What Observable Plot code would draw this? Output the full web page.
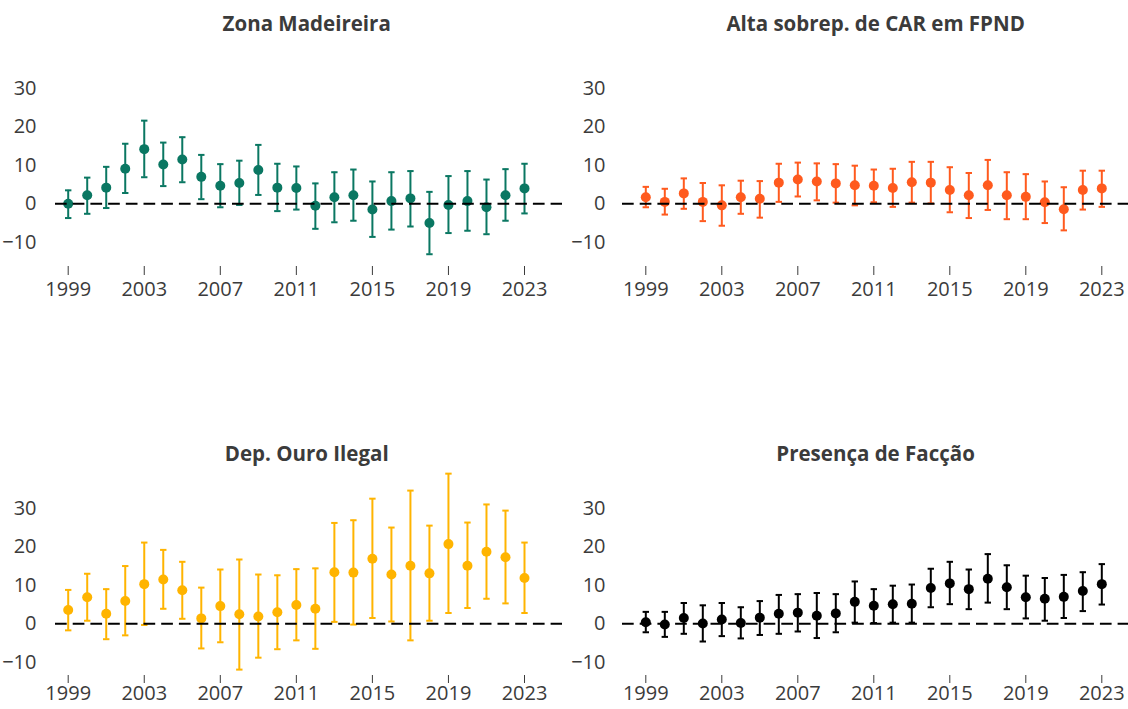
<!DOCTYPE html>
<html>
<head>
<meta charset="utf-8">
<script src="https://cdn.jsdelivr.net/npm/d3@7"></script>
<script src="https://cdn.jsdelivr.net/npm/@observablehq/plot@0.6"></script>
<style>
  html, body { margin: 0; padding: 0; background: #fff; }
  #wrap { position: relative; width: 1128px; height: 709px; overflow: hidden; font-family: "Open Sans", sans-serif; }
  .title { position: absolute; width: 600px; text-align: center; font-weight: 700; font-size: 20.5px; line-height: 24px; color: #3b3b3b; }
  .panel { position: absolute; }
</style>
</head>
<body>
<div id="wrap"></div>
<script>
const years = [1999,2000,2001,2002,2003,2004,2005,2006,2007,2008,2009,2010,2011,2012,2013,2014,2015,2016,2017,2018,2019,2020,2021,2022,2023];
const xTicks = [1999,2003,2007,2011,2015,2019,2023];
const yTicks = [-10,0,10,20,30];

const titles = ["Zona Madeireira", "Alta sobrep. de CAR em FPND", "Dep. Ouro Ilegal", "Presença de Facção"];
const colors = ["#0a7762", "#ff5a1e", "#ffb400", "#000000"];

// Zona Madeireira
const estA = [0.0,2.2,4.2,9.1,14.2,10.2,11.5,7.0,4.7,5.4,8.8,4.2,4.1,-0.5,1.7,2.2,-1.5,0.7,1.4,-5.0,-0.3,0.7,-0.9,2.2,4.0];
const hiA  = [3.5,6.8,9.6,15.6,21.6,15.9,17.3,12.7,10.3,11.2,15.3,10.4,9.7,5.3,8.2,8.9,5.8,8.2,8.5,3.1,7.2,8.5,6.3,9.0,10.4];
const loA  = [-3.7,-2.6,-1.1,2.8,6.9,4.6,5.6,1.2,-0.9,-0.3,2.3,-1.9,-1.5,-6.5,-4.8,-4.4,-8.6,-6.7,-5.9,-13.1,-7.6,-7.0,-7.9,-4.4,-2.5];

// Alta sobrep. de CAR em FPND
const estB = [1.7,0.5,2.7,0.5,-0.4,1.7,1.3,5.5,6.3,5.8,5.3,4.8,4.7,4.1,5.6,5.5,3.6,2.2,4.8,2.2,1.8,0.4,-1.4,3.6,4.0];
const hiB  = [4.4,3.9,6.6,5.4,4.8,6.0,5.9,10.4,10.7,10.5,10.3,9.9,8.9,9.1,10.9,10.9,9.5,8.0,11.4,8.2,7.7,5.8,4.3,8.6,8.6];
const loB  = [-0.9,-2.8,-1.3,-4.5,-5.7,-2.6,-3.6,0.5,1.9,0.9,0.3,-0.4,0.4,-0.8,0.3,0.1,-2.2,-3.7,-1.6,-4.0,-4.0,-5.0,-6.9,-1.5,-0.8];

// Dep. Ouro Ilegal
const estC = [3.6,6.9,2.6,5.9,10.3,11.5,8.7,1.4,4.6,2.5,1.9,3.0,4.9,3.9,13.4,13.3,16.9,12.8,15.1,13.1,20.7,15.1,18.7,17.3,11.9];
const hiC  = [8.8,13.0,9.0,15.0,21.1,19.2,16.1,9.4,14.1,16.7,12.8,12.6,14.2,14.4,26.2,26.9,32.5,25.0,34.6,25.5,39.0,26.3,31.0,29.4,21.1];
const loC  = [-1.7,0.8,-4.0,-3.0,-0.3,3.9,1.3,-6.4,-4.8,-11.9,-8.8,-6.6,-4.3,-6.5,0.5,-0.2,1.5,0.6,-4.3,0.8,2.8,4.1,6.5,5.3,2.8];

// Presença de Facção
const estD = [0.4,-0.2,1.5,0.1,1.1,0.2,1.6,2.6,2.9,2.1,2.7,5.7,4.7,5.1,5.2,9.3,10.5,9.0,11.7,9.5,6.9,6.5,7.0,8.5,10.3];
const hiD  = [3.1,3.1,5.4,4.8,5.4,4.3,5.9,7.5,7.7,8.0,7.7,11.0,9.0,9.9,10.2,14.3,16.1,14.1,18.1,15.2,12.5,11.9,12.7,13.4,15.5];
const loD  = [-2.2,-3.4,-2.6,-4.6,-3.2,-3.8,-2.9,-2.6,-2.0,-3.7,-2.2,0.3,0.2,0.3,0.3,4.3,5.1,3.8,5.5,3.8,1.4,0.8,1.5,3.3,5.0];

const series = [[estA,loA,hiA],[estB,loB,hiB],[estC,loC,hiC],[estD,loD,hiD]];

// layout of the four panels
const layout = [
  {left: 0,   top: 0,   h: 310, mb: 44, ml: 55, mr: 2, xr: [67.7, 524], pad: 19, tpad: 6, tsize: 9, tx: 306.7, ty: 10.5},
  {left: 564, top: 0,   h: 310, mb: 44, ml: 58, mr: 0, xr: [81.3, 537.3], pad: 17, tpad: 6, tsize: 9, tx: 875.6, ty: 10.5},
  {left: 0,   top: 420, h: 289, mb: 34, ml: 55, mr: 2, xr: [67.7, 524], pad: 19, tpad: 2, tsize: 8, tx: 306.7, ty: 440.5},
  {left: 564, top: 420, h: 289, mb: 34, ml: 58, mr: 0, xr: [81.3, 537.3], pad: 17, tpad: 2, tsize: 8, tx: 875.6, ty: 440.5}
];

const cap = {
  draw(context, size) {
    const w = Math.sqrt(size / Math.PI);
    context.moveTo(-w, 0);
    context.lineTo(w, 0);
  }
};

const wrap = document.getElementById("wrap");

layout.forEach((L, i) => {
  const [est, lo, hi] = series[i];
  const data = years.map((year, j) => ({year, est: est[j], lo: lo[j], hi: hi[j]}));
  const color = colors[i];

  const t = document.createElement("div");
  t.className = "title";
  t.textContent = titles[i];
  t.style.left = (L.tx - 300) + "px";
  t.style.top = L.ty + "px";
  wrap.appendChild(t);

  const chart = Plot.plot({
    width: 564,
    height: L.h,
    marginLeft: L.ml,
    marginRight: L.mr,
    marginTop: 20,
    marginBottom: L.mb,
    style: {fontFamily: "'Open Sans', sans-serif", fontSize: "20px", color: "#3b3b3b", background: "transparent", overflow: "visible"},
    x: {domain: [1999, 2023], range: L.xr, ticks: xTicks, tickFormat: d => String(d), tickSize: L.tsize, tickPadding: L.tpad, label: null},
    y: {domain: [-10, 30], range: [241.8, 87.8], ticks: yTicks, tickSize: 0, tickPadding: L.pad, label: null},
    marks: [
      Plot.ruleX(data, {x: "year", y1: "lo", y2: "hi", stroke: color, strokeWidth: 2}),
      Plot.dot(data, {x: "year", y: "lo", symbol: cap, r: 3.2, stroke: color, strokeWidth: 2, fill: "none"}),
      Plot.dot(data, {x: "year", y: "hi", symbol: cap, r: 3.2, stroke: color, strokeWidth: 2, fill: "none"}),
      Plot.dot(data, {x: "year", y: "est", r: 5, fill: color, stroke: "none"}),
      Plot.ruleY([0], {stroke: "#000", strokeWidth: 2, strokeDasharray: "11.7,6"})
    ]
  });
  chart.classList.add("panel");
  chart.style.left = L.left + "px";
  chart.style.top = L.top + "px";
  wrap.appendChild(chart);
});
</script>
</body>
</html>
